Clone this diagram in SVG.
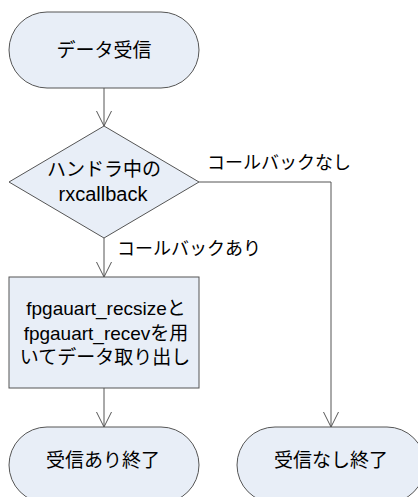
<svg xmlns="http://www.w3.org/2000/svg" width="418" height="497" viewBox="0 0 418 497">
<style>
.shape{fill:#E8EEF7;stroke:#555555;stroke-width:1}
.t{font-family:"Liberation Sans","Noto Sans CJK JP",sans-serif;font-size:19px;fill:#000;text-anchor:middle}
.lbl{font-family:"Liberation Sans","Noto Sans CJK JP",sans-serif;font-size:18px;fill:#000}
.line{fill:none;stroke:#555555;stroke-width:1}
</style>
<defs>
<marker id="arr" markerWidth="16" markerHeight="18" refX="15" refY="8" orient="auto" markerUnits="userSpaceOnUse">
<path d="M0,0.5 L15,8 L0,15.5" fill="none" stroke="#555555" stroke-width="1"/>
</marker>
</defs>
<rect width="418" height="497" fill="#fff"/>
<g id="connectors">
<path class="line" d="M104,88 L104,126" marker-end="url(#arr)"/>
<path class="line" d="M104,238 L104,277" marker-end="url(#arr)"/>
<path class="line" d="M104,388 L104,427" marker-end="url(#arr)"/>
<path class="line" d="M199,182 L331,182 L331,427" marker-end="url(#arr)"/>
<text class="lbl" x="117" y="255">コールバックあり</text>
<text class="lbl" x="207" y="169">コールバックなし</text>
</g>
<g id="start">
<rect class="shape" x="9" y="12" width="190" height="76" rx="38" ry="38"/>
<text class="t" x="104" y="57">データ受信</text>
</g>
<g id="decision">
<polygon class="shape" points="104,126 199,182 104,238 9,182"/>
<text class="t" x="104" y="176">ハンドラ中の</text>
<text class="t" x="103" y="201" style="font-size:20px">rxcallback</text>
</g>
<g id="process">
<rect class="shape" x="9" y="277" width="190" height="111"/>
<text class="t" x="106" y="315">fpgauart_recsizeと</text>
<text class="t" x="106" y="340">fpgauart_recevを用</text>
<text class="t" x="105" y="364">いてデータ取り出し</text>
</g>
<g id="end-yes">
<rect class="shape" x="9" y="427" width="190" height="76" rx="38" ry="38"/>
<text class="t" x="103" y="467">受信あり終了</text>
</g>
<g id="end-no">
<rect class="shape" x="237" y="427" width="188" height="76" rx="38" ry="38"/>
<text class="t" x="331" y="467">受信なし終了</text>
</g>
</svg>
